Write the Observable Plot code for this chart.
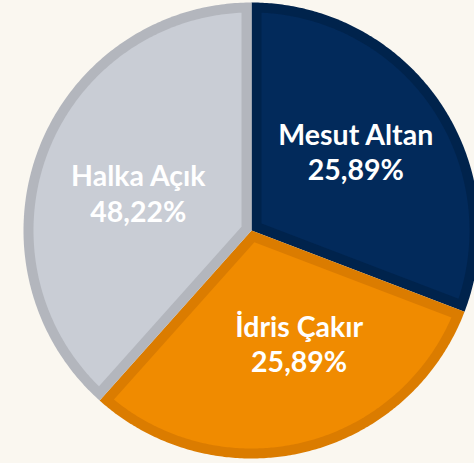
<!DOCTYPE html>
<html>
<head>
<meta charset="utf-8">
<script src="https://cdn.jsdelivr.net/npm/d3@7"></script>
<script src="https://cdn.jsdelivr.net/npm/@observablehq/plot@0.6"></script>
<style>
  html, body { margin: 0; padding: 0; background: #faf7f0; overflow: hidden; }
</style>
</head>
<body>
<div id="chart"></div>
<script>
// Data
const names = ["Mesut Altan", "İdris Çakır", "Halka Açık"];
const percentLabels = ["25,89%", "25,89%", "48,22%"];
// slice sizes as drawn in the picture (angles), in %
const shares = [30.8, 30.8, 38.4];

// Styles
const fillColors = ["#022a5b", "#f08b00", "#c9cdd5"];
const edgeColors = ["#00234c", "#db7c00", "#b3b6bd"];
const labelNudge = [[1, -8], [18, -9], [4, 7]]; // label offsets (px) from slice centroid

const W = 474, H = 463;
const R = 228;            // radius in px
const cx = 251, cy = 230; // centre in px
const inset = 10 / R;     // border width in radius units

const arcs = d3.pie().sort(null).value(d => d)(shares);

function pt(a, r) { return {x: r * Math.sin(a), y: r * Math.cos(a)}; }

const outer = [], inner = [], labels = [];
arcs.forEach((a, i) => {
  const key = names[i];
  const a0 = a.startAngle, a1 = a.endAngle;
  outer.push({key, ...pt(0, 0)});
  for (let t = a0; t <= a1 + 1e-9; t += (a1 - a0) / 200) outer.push({key, ...pt(t, 1)});
  outer.push({key, ...pt(0, 0)});
  const half = (a1 - a0) / 2;
  const mid = (a0 + a1) / 2;
  const apex = pt(mid, inset / Math.sin(half));
  inner.push({key, ...apex});
  const r = 1 - inset;
  const b0 = a0 + Math.asin(inset / r), b1 = a1 - Math.asin(inset / r);
  for (let t = b0; t <= b1 + 1e-9; t += (b1 - b0) / 200) inner.push({key, ...pt(t, r)});
  inner.push({key, ...apex});
  labels.push({key, i, text: names[i] + "\n" + percentLabels[i], ...pt(mid, 0.55)});
});

const labelMarks = labels.map((d) => Plot.text([d], {
  x: "x", y: "y", text: "text",
  dx: labelNudge[d.i][0], dy: labelNudge[d.i][1],
  fill: "#ffffff",
  fontSize: 28.5, fontWeight: "bold",
  fontFamily: "Lato, 'Open Sans', sans-serif",
  lineHeight: 1.24
}));

const chart = Plot.plot({
  width: W,
  height: H,
  margin: 0,
  x: {domain: [-cx / R, (W - cx) / R], axis: null},
  y: {domain: [-(H - cy) / R, cy / R], axis: null},
  color: {domain: names, range: fillColors},
  style: {background: "#faf7f0", overflow: "hidden"},
  marks: [
    Plot.line(outer, {x: "x", y: "y", z: "key", fill: (d) => edgeColors[names.indexOf(d.key)], stroke: null, curve: "linear"}),
    Plot.line(inner, {x: "x", y: "y", z: "key", fill: "key", stroke: null, curve: "linear"}),
    ...labelMarks
  ]
});
document.getElementById("chart").appendChild(chart);
</script>
</body>
</html>
